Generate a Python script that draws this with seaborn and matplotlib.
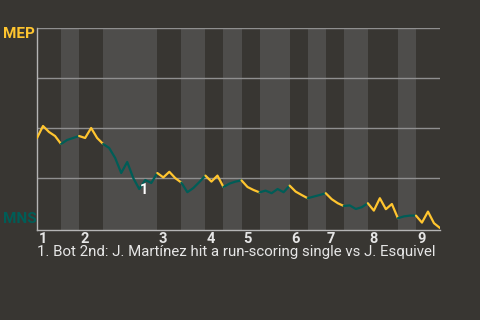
import matplotlib
matplotlib.use("Agg")
import matplotlib.pyplot as plt
import seaborn as sns
import pandas as pd

# ---- data ----
win_prob = [0.45, 0.51, 0.48, 0.46, 0.42, 0.44, 0.45, 0.46, 0.45, 0.50,
            0.45, 0.42, 0.40, 0.35, 0.275, 0.33, 0.25, 0.195, 0.24, 0.225,
            0.275, 0.253, 0.281, 0.249, 0.227, 0.179, 0.20, 0.23, 0.262, 0.232,
            0.262, 0.205, 0.222, 0.232, 0.238, 0.205, 0.19, 0.178, 0.187, 0.174,
            0.195, 0.179, 0.212, 0.182, 0.165, 0.149, 0.157, 0.165, 0.174, 0.144,
            0.124, 0.11, 0.113, 0.095, 0.104, 0.124, 0.087, 0.149, 0.094, 0.12,
            0.049, 0.058, 0.062, 0.062, 0.027, 0.082, 0.024, 0.0]
half_breaks = [0, 4, 7, 11, 20, 24, 28, 31, 34, 37, 42, 45, 48, 51, 55, 60, 63, 67]
inning_labels = ["1", "2", "3", "4", "5", "6", "7", "8", "9"]
team_top = "MEP"
team_bottom = "MNS"
highlight_play = 17
highlight_label = "1"
caption = "1. Bot 2nd: J. Martínez hit a run-scoring single vs J. Esquivel"
grid_values = [0.25, 0.5, 0.75, 1.0]

# ---- styling ----
BG = "#383632"
BAND = "#4e4d4b"
YELLOW = "#FFC52F"
TEAL = "#005D57"
GRID = "#8f8f8f"
TEXT = "#e6e6e6"

sns.set_theme(style="dark")
plt.rcParams["font.family"] = ["Roboto", "DejaVu Sans"]

df = pd.DataFrame({"play": range(len(win_prob)), "wp": win_prob})

fig = plt.figure(figsize=(4.8, 3.2), dpi=100, facecolor=BG)
ax = fig.add_axes([37 / 480, 1 - 230 / 320, (440 - 37) / 480, (230 - 28) / 320])
ax.set_facecolor(BG)

for k in range(len(half_breaks) - 1):
    i0, i1 = half_breaks[k], half_breaks[k + 1]
    top_half = (k % 2 == 0)
    ax.axvspan(i0, i1, color=BG if top_half else BAND, lw=0, zorder=0.1)
    seg = df.iloc[i0:i1 + 1]
    sns.lineplot(data=seg, x="play", y="wp", ax=ax,
                 color=YELLOW if top_half else TEAL, lw=1.6, zorder=3)

for g in grid_values:
    ax.axhline(g, color=GRID, lw=1, zorder=1)

ax.set_xlim(0, len(win_prob) - 1)
ax.set_ylim(-0.01, 1.0)
ax.set_xticks([])
ax.set_yticks([])
ax.set_xlabel("")
ax.set_ylabel("")
for s in ["top", "right"]:
    ax.spines[s].set_visible(False)
for s in ["left", "bottom"]:
    ax.spines[s].set_visible(True)
    ax.spines[s].set_color("#b5b5b5")
    ax.spines[s].set_linewidth(1)

# inning labels at the start of each top half
for n, lbl in enumerate(inning_labels):
    start = half_breaks[2 * n]
    ax.annotate(lbl, xy=(start, 0), xycoords=("data", "axes fraction"),
                xytext=(1.0, -1.2), textcoords="offset points",
                ha="left", va="top", color=TEXT, fontsize=10.5,
                fontweight="bold", annotation_clip=False)

# highlighted play marker
ax.annotate(highlight_label, xy=(highlight_play, win_prob[highlight_play]),
            xytext=(0.5, -0.5), textcoords="offset points",
            ha="left", va="center", color="white", fontsize=10.5,
            fontweight="bold", zorder=5)

fig.text(3 / 480, 1 - 34 / 320, team_top, color=YELLOW, fontsize=11,
         fontweight="bold", ha="left", va="center")
fig.text(3 / 480, 1 - 219 / 320, team_bottom, color=TEAL, fontsize=11,
         fontweight="bold", ha="left", va="center")
fig.text(37 / 480, 1 - 252 / 320, caption, color=TEXT, fontsize=10.8,
         ha="left", va="center")

fig.savefig("out.png", dpi=100, facecolor=BG)
